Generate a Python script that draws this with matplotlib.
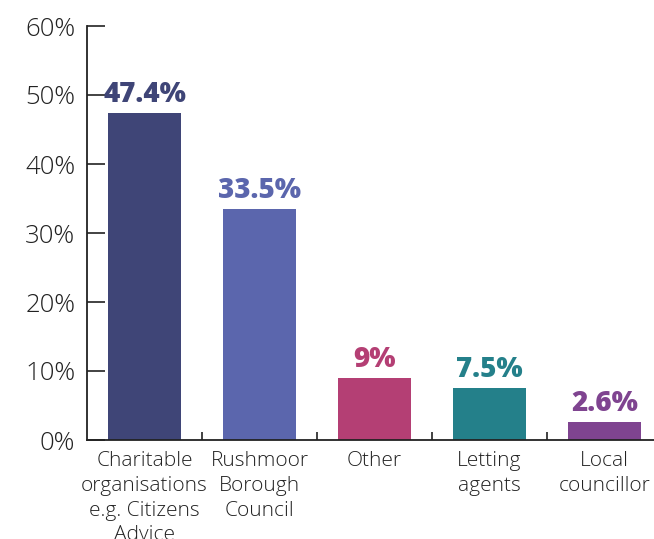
import matplotlib
matplotlib.use("Agg")
import matplotlib.pyplot as plt

categories = ["Charitable\norganisations\ne.g. Citizens\nAdvice",
              "Rushmoor\nBorough\nCouncil", "Other", "Letting\nagents", "Local\ncouncillor"]
values = [47.4, 33.5, 9, 7.5, 2.6]
value_labels = ["47.4%", "33.5%", "9%", "7.5%", "2.6%"]
colors = ["#3f4577", "#5b66ad", "#b43f74", "#24808a", "#7f4490"]
yticks = [0, 10, 20, 30, 40, 50, 60]
ytick_labels = ["0%", "10%", "20%", "30%", "40%", "50%", "60%"]

plt.rcParams['font.family'] = ['Open Sans', 'DejaVu Sans']

fig = plt.figure(figsize=(6.54, 5.39), dpi=100)
ax = fig.add_axes([87/654, 1-440/539, 1-87/654, (440-26)/539])

x = list(range(len(categories)))
ax.bar(x, values, width=0.64, color=colors, zorder=2)
for xi, v, lab, c in zip(x, values, value_labels, colors):
    ax.text(xi, v + 0.6, lab, ha='center', va='bottom', color=c,
            fontsize=20, fontweight='heavy')

ax.set_xlim(-0.5, 4.43)
ax.set_ylim(0, 60)
ax.set_yticks(yticks)
ax.set_yticklabels(ytick_labels, fontsize=18.5, color='#222222', fontweight='light')
ax.tick_params(axis='y', direction='in', length=13, width=1.2, pad=8.5, color='#222222')

ax.set_xticks([0.5, 1.5, 2.5, 3.5])
ax.set_xticklabels([])
ax.tick_params(axis='x', direction='in', length=6, width=1.2, color='#222222')
ax.xaxis.set_ticks_position('bottom')
for xi, lab in zip(x, categories):
    ax.text(xi, -1.6, lab, ha='center', va='top', fontsize=15,
            color='#222222', linespacing=1.32, clip_on=False, fontweight='light')

for s in ['top', 'right']:
    ax.spines[s].set_visible(False)
for s in ['left', 'bottom']:
    ax.spines[s].set_linewidth(1.3)
    ax.spines[s].set_color('#222222')

fig.savefig("out.png", dpi=100)
